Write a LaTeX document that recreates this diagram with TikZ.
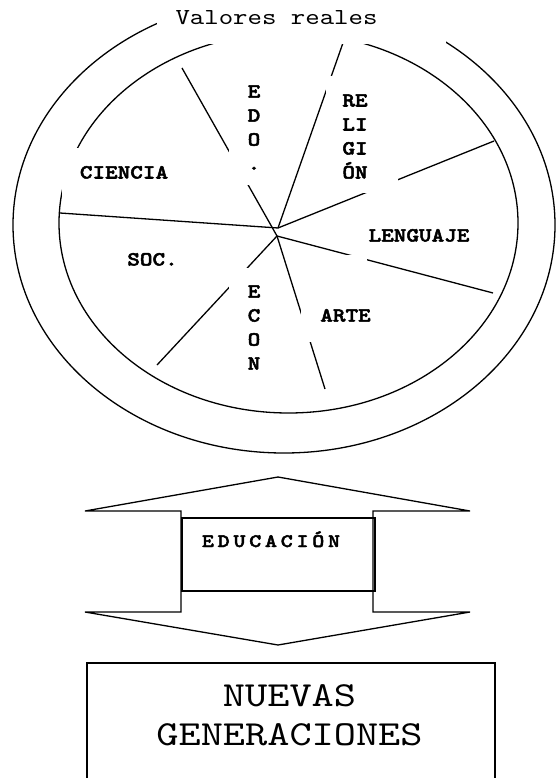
\documentclass[tikz,border=0pt]{standalone}
\usepackage{fontspec}
\newfontfamily\cour{lmmono10-regular}[Extension=.otf,BoldFont=lmmonolt10-bold,BoldFeatures={FakeBold=2.5},FakeStretch=1.2]
\begin{document}
\begin{tikzpicture}[x=1pt,y=-1pt,line width=1.3pt,
  lbl/.style={font=\cour\bfseries\fontsize{20}{24}\selectfont,inner sep=0,align=center},
  plain/.style={font=\cour\fontsize{22.9}{26}\selectfont,inner sep=0,align=center}]
\useasboundingbox (0,0) rectangle (556,778);
\draw (284,225) ellipse [x radius=271,y radius=228];
\draw (288.5,223) ellipse [x radius=229.5,y radius=190];
\coordinate (hubA) at (278,228);
\coordinate (hubB) at (277,236);
\coordinate (cie) at (60,213);
\coordinate (edo) at (182,68);
\coordinate (rel) at (344,40);
\coordinate (lenA) at (494,141);
\coordinate (lenB) at (493,293);
\coordinate (art) at (325,389);
\coordinate (soc) at (157,365);
\draw (cie) -- (hubA);
\draw (rel) -- (hubA);
\draw (lenA) -- (hubA);
\draw (edo) -- (hubB);
\draw (hubB) -- (lenB);
\draw (hubB) -- (art);
\draw (hubB) -- (soc);
% text boxes
\fill[white] (157,-10) rectangle (446,44);
\fill[white] (61.5,148) rectangle (180,201);
\fill[white] (229,75) rectangle (285,185);
\fill[white] (326,76) rectangle (398,193);
\fill[white] (301,255) rectangle (367,342);
\fill[white] (229,268) rectangle (280,380);
\node (valores) at (276.5,25) [plain,anchor=base] {Valores reales};
\node (ciencia) at (124,178.5) [lbl,anchor=base] {CIENCIA};
\node (edoname) at (254,127.5) [lbl] {E\\D\\O\\.};
\node (religion) at (355,136.5) [lbl] {RE\\LI\\GI\\ÓN};
\node (lenguaje) at (419,241.5) [lbl,anchor=base] {LENGUAJE};
\node (arte) at (345.5,321.5) [lbl,anchor=base] {ARTE};
\node (socname) at (152.5,265.5) [lbl,anchor=base] {SOC.};
\node (econ) at (254,327.5) [lbl] {E\\C\\O\\N};
\draw (278,477) -- (470,511) -- (373,511) -- (373,612) -- (470,612) -- (278,645)
  -- (85,612) -- (181,612) -- (181,511) -- (85,511) -- cycle;
\node (educbox) at (278.5,554.5) [draw,minimum width=193,minimum height=73,inner sep=0] {};
\node (educ) at (271,547) [anchor=base,inner sep=0,font=\cour\bfseries\fontsize{19}{24}\selectfont\addfontfeatures{LetterSpace=20}] {EDUCACIÓN};
\draw (87,800) rectangle (495,663);
\node (nuevas) at (289.5,715.5) [font=\cour\fontsize{35.2}{39}\selectfont,inner sep=0,align=center] {NUEVAS\\GENERACIONES};
\end{tikzpicture}
\end{document}
